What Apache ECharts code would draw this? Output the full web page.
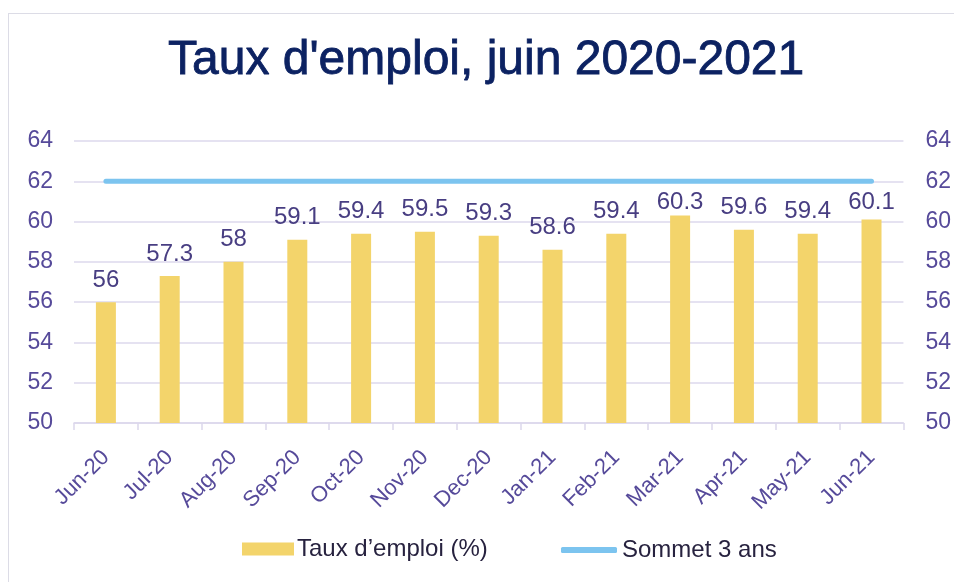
<!DOCTYPE html>
<html>
<head>
<meta charset="utf-8">
<script src="https://cdn.jsdelivr.net/npm/echarts@6/dist/echarts.min.js"></script>
<style>
  html, body { margin: 0; padding: 0; background: #fff; }
  #frame { position: absolute; left: 8px; top: 13px; width: 960px; height: 600px;
           border-left: 1px solid #dcdce6; border-top: 1px solid #dcdce6; }
  #chart { position: absolute; left: 0; top: 0; width: 954px; height: 582px; }
</style>
</head>
<body>
<div id="frame"></div>
<div id="chart"></div>
<script>
// catégories et valeurs
var months = ['Jun-20', 'Jul-20', 'Aug-20', 'Sep-20', 'Oct-20', 'Nov-20', 'Dec-20',
              'Jan-21', 'Feb-21', 'Mar-21', 'Apr-21', 'May-21', 'Jun-21'];
var tauxEmploi = [56, 57.3, 58, 59.1, 59.4, 59.5, 59.3, 58.6, 59.4, 60.3, 59.6, 59.4, 60.1];
var sommet3ans = [62, 62, 62, 62, 62, 62, 62, 62, 62, 62, 62, 62, 62];

var axisColor = '#564a9a';
var gridColor = '#dcd8ec';
var barColor = '#f3d46b';
var lineColor = '#7cc4ef';

var myChart = echarts.init(document.getElementById('chart'));

var option = {
    animation: false,
    title: {
        text: "Taux d'emploi, juin 2020-2021",
        left: 163,
        top: 32,
        textStyle: {
            fontFamily: 'Liberation Sans',
            fontSize: 48,
            fontWeight: 'normal',
            color: '#0c2262',
            textBorderColor: '#0c2262',
            textBorderWidth: 0.8
        }
    },
    // deux légendes pour avoir des hauteurs d'icône différentes
    legend: [
        {
            left: 242,
            top: 537,
            padding: 0,
            itemWidth: 52,
            itemHeight: 13,
            icon: 'rect',
            textStyle: {
                fontFamily: 'Liberation Sans',
                fontSize: 24,
                color: '#27223f',
                padding: [0, 0, 6, -2]
            },
            data: ['Taux d\u2019emploi (%)']
        },
        {
            left: 561,
            top: 538,
            padding: 0,
            itemWidth: 56,
            itemHeight: 6,
            icon: 'roundRect',
            textStyle: {
                fontFamily: 'Liberation Sans',
                fontSize: 24,
                color: '#27223f',
                padding: [0, 0, 6, 0]
            },
            data: ['Sommet 3 ans']
        }
    ],
    grid: {
        left: 74,
        right: 50,
        top: 141,
        bottom: 159
    },
    xAxis: {
        type: 'category',
        data: months,
        axisLine: { lineStyle: { color: gridColor, width: 1.5 } },
        axisTick: { show: true, length: 7, lineStyle: { color: gridColor, width: 1.5 } },
        axisLabel: {
            rotate: 45,
            interval: 0,
            margin: 31,
            fontFamily: 'Liberation Sans',
            fontSize: 22,
            color: axisColor
        }
    },
    yAxis: [
        {
            type: 'value',
            min: 50,
            max: 64,
            interval: 2,
            axisLine: { show: false },
            axisTick: { show: false },
            splitLine: { lineStyle: { color: gridColor, width: 1.5 } },
            axisLabel: {
                margin: 21,
                fontFamily: 'Liberation Sans',
                fontSize: 23,
                color: axisColor
            }
        },
        {
            type: 'value',
            min: 50,
            max: 64,
            interval: 2,
            position: 'right',
            axisLine: { show: false },
            axisTick: { show: false },
            splitLine: { show: false },
            axisLabel: {
                margin: 22,
                fontFamily: 'Liberation Sans',
                fontSize: 23,
                color: axisColor
            }
        }
    ],
    series: [
        {
            name: 'Taux d\u2019emploi (%)',
            type: 'bar',
            barWidth: 20,
            data: tauxEmploi,
            itemStyle: { color: barColor },
            label: {
                show: true,
                position: 'top',
                distance: 10,
                fontFamily: 'Liberation Sans',
                fontSize: 24,
                color: '#483e82'
            },
            // les étiquettes trop proches de la ligne sont poussées vers le bas
            labelLayout: function(p) {
                var lineY = myChart.convertToPixel({ yAxisIndex: 0 }, sommet3ans[0]);
                var minBottom = lineY + 33;
                var bottom = p.labelRect.y + p.labelRect.height;
                if (bottom < minBottom) {
                    return { dy: minBottom - bottom };
                }
                return {};
            }
        },
        {
            name: 'Sommet 3 ans',
            type: 'line',
            data: sommet3ans,
            symbol: 'none',
            itemStyle: { color: lineColor },
            lineStyle: { color: lineColor, width: 5, cap: 'round' }
        }
    ]
};

myChart.setOption(option);
</script>
</body>
</html>
